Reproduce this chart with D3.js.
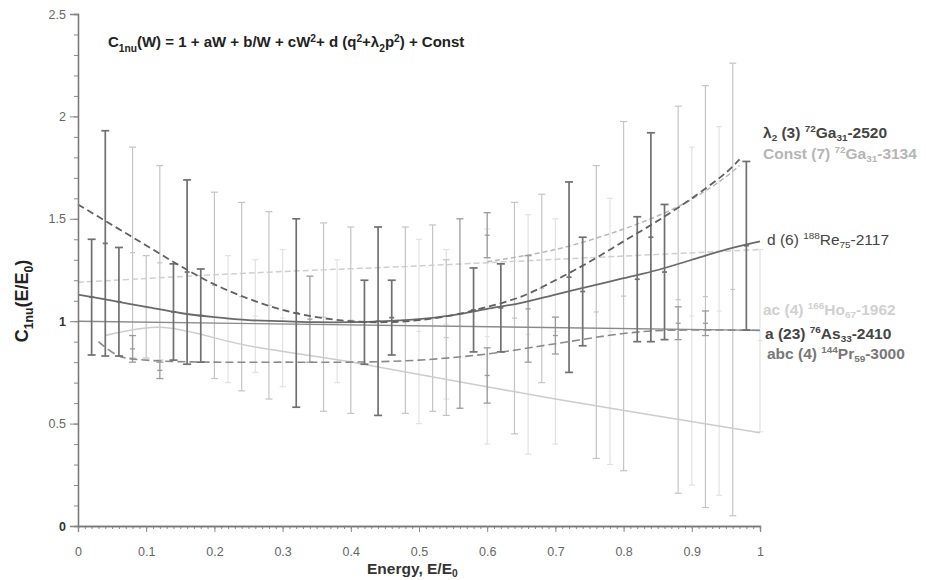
<!DOCTYPE html>
<html><head><meta charset="utf-8">
<script src="https://cdn.jsdelivr.net/npm/d3@7"></script>
<style>
body{margin:0;background:#fff}
svg{display:block}
text{font-family:"Liberation Sans",Arial,Helvetica,sans-serif}
</style>
</head><body>
<svg id="chart" width="930" height="580"></svg>
<script>
// ---------- data ----------
const xTickValues = [0,0.1,0.2,0.3,0.4,0.5,0.6,0.7,0.8,0.9,1];
const xTickLabels = ["0","0.1","0.2","0.3","0.4","0.5","0.6","0.7","0.8","0.9","1"];
const yTickValues = [0,0.5,1,1.5,2,2.5];
const yTickLabels = ["0","0.5","1","1.5","2","2.5"];

const titleText = "C_{1nu}(W) = 1 + aW + b/W + cW^{2}+ d (q^{2}+λ_{2}p^{2}) + Const";
const xLabelText = "Energy, E/E_{0}";
const yLabelText = "C_{1nu}(E/E_{0})";

const seriesLabels = [
  "λ_{2} (3) ^{72}Ga_{31}-2520",
  "Const (7) ^{72}Ga_{31}-3134",
  "d (6) ^{188}Re_{75}-2117",
  "ac (4) ^{166}Ho_{67}-1962",
  "a (23) ^{76}As_{33}-2410",
  "abc (4) ^{144}Pr_{59}-3000"
];

// fitted curves [E/E0, C]
const curveLambda = [[0,1.57],[0.05,1.47],[0.1,1.37],[0.15,1.27],[0.2,1.18],[0.25,1.11],[0.3,1.055],[0.35,1.02],[0.4,1.0],[0.45,0.995],[0.5,1.005],[0.55,1.03],[0.6,1.07],[0.65,1.12],[0.7,1.2],[0.75,1.29],[0.8,1.39],[0.85,1.49],[0.9,1.6],[0.95,1.725],[0.97,1.79]];
const curveConst  = [[0.6,1.29],[0.7,1.35],[0.8,1.45],[0.88,1.56],[0.94,1.68],[0.97,1.76]];
const curveD      = [[0,1.13],[0.05,1.1],[0.1,1.07],[0.15,1.04],[0.2,1.02],[0.25,1.005],[0.3,1.0],[0.35,0.995],[0.4,0.995],[0.45,1.0],[0.5,1.01],[0.55,1.03],[0.6,1.06],[0.65,1.09],[0.7,1.13],[0.75,1.17],[0.8,1.21],[0.85,1.25],[0.9,1.3],[0.95,1.35],[1.0,1.39]];
const curveAc     = [[0,1.19],[0.25,1.235],[0.5,1.27],[0.75,1.31],[1.0,1.35]];
const curveA      = [[0,1.0],[1.0,0.955]];
const curveAbc    = [[0.03,0.9],[0.06,0.83],[0.1,0.81],[0.2,0.8],[0.3,0.8],[0.4,0.8],[0.5,0.81],[0.6,0.84],[0.7,0.89],[0.8,0.94],[0.86,0.955],[1.0,0.955]];
const curveLow    = [[0.04,0.93],[0.12,0.97],[0.25,0.88],[0.41,0.795],[0.7,0.62],[1.0,0.455]];

// error bars: x, low, high
const darkX  = [0.02,0.04,0.06,0.14,0.16,0.18,0.32,0.42,0.44,0.46,0.58,0.62,0.72,0.74,0.82,0.84,0.86,0.98];
const darkLo = [0.835,0.83,0.83,0.81,0.79,0.80,0.58,0.79,0.54,0.835,0.85,0.85,0.75,0.88,0.90,0.90,0.91,0.957];
const darkHi = [1.40,1.93,1.36,1.28,1.69,1.255,1.50,1.20,1.46,1.20,1.26,1.28,1.68,1.41,1.51,1.92,1.57,1.78];

const midX  = [0.08,0.12,0.34,0.56,0.60,0.60,0.66,0.70,0.88,0.92];
const midLo = [0.80,0.72,0.80,0.575,1.31,0.60,0.80,0.84,0.91,0.93];
const midHi = [0.93,0.80,1.22,1.50,1.53,0.87,1.32,1.02,1.07,1.05];

const lightX  = [0.08,0.10,0.12,0.20,0.24,0.28,0.36,0.40,0.48,0.52,0.54,0.64,0.68,0.76,0.80,0.88,0.92,0.96];
const lightLo = [0.82,0.82,0.81,0.72,0.66,0.62,0.56,0.55,0.55,0.56,0.54,0.45,0.70,0.33,0.27,0.16,0.09,0.05];
const lightHi = [1.85,1.32,1.76,1.63,1.58,1.535,1.48,1.46,1.46,1.47,1.30,1.58,1.62,1.76,1.975,2.05,2.15,2.26];

const faintX  = [0.22,0.26,0.30,0.38,0.50,0.54,0.60,0.66,0.70,0.78,0.90,0.94,1.00];
const faintLo = [0.70,0.75,0.68,0.70,0.50,0.62,0.40,0.35,0.40,0.30,0.20,0.15,0.46];
const faintHi = [1.32,1.30,1.35,1.30,1.40,1.35,1.45,1.52,1.50,1.60,1.85,1.95,1.35];

// ---------- drawing ----------
const svg = d3.select("#chart");
const x = d3.scaleLinear().domain([0,1]).range([78,760]);
const y = d3.scaleLinear().domain([0,2.5]).range([526,14]);

function richText(sel, str, size, scale, subOff){
  scale = scale || 0.68;
  subOff = subOff || 0.3;
  const parts = str.match(/(_\{[^}]*\}|\^\{[^}]*\}|[^_^]+)/g);
  let off = 0;
  parts.forEach(p=>{
    let t, target = 0, fs = size;
    if (p.startsWith("_{")) { t = p.slice(2,-1); target = size*subOff; fs = size*scale; }
    else if (p.startsWith("^{")) { t = p.slice(2,-1); target = -size*0.36; fs = size*scale; }
    else t = p;
    sel.append("tspan").attr("dy", target-off).attr("font-size", fs).text(t);
    off = target;
  });
}

// error bars
function bars(xs, lo, hi, color, w, cap, cls){
  const g = svg.append("g").attr("class",cls).attr("stroke",color).attr("stroke-width",w);
  xs.forEach((xv,i)=>{
    const px = x(xv);
    g.append("line").attr("x1",px).attr("x2",px).attr("y1",y(lo[i])).attr("y2",y(hi[i]));
    g.append("line").attr("x1",px-cap).attr("x2",px+cap).attr("y1",y(lo[i])).attr("y2",y(lo[i]));
    g.append("line").attr("x1",px-cap).attr("x2",px+cap).attr("y1",y(hi[i])).attr("y2",y(hi[i]));
    const c = (lo[i]+hi[i])/2;
    g.append("line").attr("x1",px-2.5).attr("x2",px+2.5).attr("y1",y(c)).attr("y2",y(c));
  });
}

const line = d3.line().x(d=>x(d[0])).y(d=>y(d[1])).curve(d3.curveCatmullRom);
function curve(data, color, w, dash){
  svg.append("path").datum(data).attr("d",line).attr("fill","none")
    .attr("stroke",color).attr("stroke-width",w).attr("stroke-dasharray",dash||null);
}

bars(faintX, faintLo, faintHi, "#e2e2e2", 1.2, 3, "faint");
bars(lightX, lightLo, lightHi, "#c4c4c4", 1.2, 3.5, "light");
curve(curveLow, "#cccccc", 1.5);
curve(curveAc, "#cfcfcf", 1.5, "6,3");
curve(curveConst, "#b8b8b8", 1.5, "5,3");
bars(midX, midLo, midHi, "#9a9a9a", 1.3, 3.5, "mid");
curve(curveAbc, "#8a8a8a", 1.6, "8,4");
curve(curveA, "#8a8a8a", 1.4);
bars(darkX, darkLo, darkHi, "#707070", 1.7, 4, "dark");
curve(curveD, "#6a6a6a", 1.8);
curve(curveLambda, "#606060", 1.8, "7,4");

// axes
const axG = svg.append("g").attr("class","axes");
const xMinor = d3.range(0,101).map(i=>i/100);
const yMinor = d3.range(0,26).map(i=>i/10);
axG.append("g").attr("transform","translate(0,526)")
  .call(d3.axisBottom(x).tickValues(xMinor).tickSize(3).tickFormat(""));
const xAxisMajor = axG.append("g").attr("transform","translate(0,526)")
  .call(d3.axisBottom(x).tickValues(xTickValues).tickSize(6).tickPadding(15).tickFormat((d,i)=>xTickLabels[i]));
axG.append("g").attr("transform","translate(78,0)")
  .call(d3.axisLeft(y).tickValues(yMinor).tickSize(4).tickFormat(""));
const yAxisMajor = axG.append("g").attr("transform","translate(78,0)")
  .call(d3.axisLeft(y).tickValues(yTickValues).tickSize(8).tickPadding(4).tickFormat((d,i)=>yTickLabels[i]));
axG.selectAll(".domain").attr("stroke","#777").attr("stroke-width",1.3);
axG.selectAll(".tick line").attr("stroke","#888");
xAxisMajor.selectAll("text").attr("font-size",12.5).attr("fill","#666").attr("font-family","Liberation Sans, Arial, sans-serif");
yAxisMajor.selectAll("text").attr("font-size",12.5).attr("font-family","Liberation Sans, Arial, sans-serif")
  .attr("font-weight",(d)=> (d===0||d===1)?"bold":"normal").attr("fill",(d)=>(d===0||d===1)?"#333":"#666");

// title
richText(svg.append("text").attr("x",108).attr("y",47).attr("font-weight","bold").attr("font-size",15).attr("fill","#222"), titleText, 15);
// x label
richText(svg.append("text").attr("x",367).attr("y",574).attr("font-weight","bold").attr("font-size",15.5).attr("fill","#333"), xLabelText, 15.5, 0.66, 0.18);
// y label
richText(svg.append("text").attr("transform","translate(28,301) rotate(-90)").attr("text-anchor","middle")
  .attr("font-weight","bold").attr("font-size",18).attr("fill","#222"), yLabelText, 18);

// series labels
const labelY = [138,159,245,315,339,359];
const labelX = [763,763,767,763,765,767];
const labelColor = ["#444","#b5b5b5","#444","#d0d0d0","#444","#777"];
const labelWeight = ["bold","bold","normal","bold","bold","bold"];
seriesLabels.forEach((s,i)=>{
  richText(svg.append("text").attr("x",labelX[i]).attr("y",labelY[i]).attr("font-size",15.5)
    .attr("font-weight",labelWeight[i]).attr("fill",labelColor[i]), s, 15.5, 0.64, 0.22);
});
</script>
</body></html>
